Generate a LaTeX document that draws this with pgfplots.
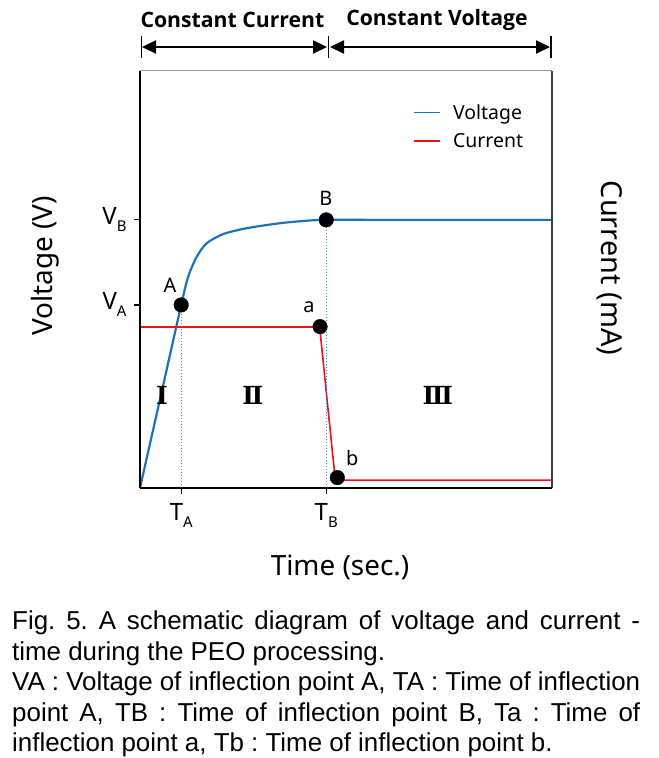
\documentclass[border=0pt]{standalone}
\usepackage{fontspec}
\setmainfont{Noto Sans}
\newfontfamily\boldfont{Open Sans}
\newfontfamily\capfont{Liberation Sans}
\newfontfamily\romanfont{DejaVu Serif}
\usepackage{pgfplots}
\pgfplotsset{compat=1.18}
\usetikzlibrary{arrows.meta}
\definecolor{vblue}{RGB}{30,114,184}
\definecolor{cred}{RGB}{232,20,20}
\newcommand{\sub}[1]{\raisebox{-0.55ex}{\fontsize{15}{15}\selectfont #1}}
\begin{document}
\begin{tikzpicture}[x=1bp,y=1bp]
\begin{axis}[
  at={(0,0)}, anchor=south west,
  scale only axis, width=412bp, height=417bp,
  xmin=0, xmax=100, ymin=0, ymax=100,
  axis line style={draw=none},
  xtick={10,45.2}, xticklabels={T\sub{A}, T\sub{B}},
  ytick={43.9,64.3}, yticklabels={V\sub{A}, V\sub{B}},
  xtick pos=bottom, ytick pos=left,
  tick align=outside, major tick length=6bp,
  tick style={black, line width=1.2pt},
  tick label style={font=\fontsize{24}{24}\selectfont},
  xticklabel style={yshift=-6bp},
  yticklabel style={xshift=-4bp},
  clip=false,
  legend style={at={(rel axis cs:0.655,0.93)}, anchor=north west, draw=none, fill=none,
    font=\fontsize{19.5}{19.5}\selectfont, row sep=9bp},
  legend cell align=left,
  legend image code/.code={\draw[#1, line width=2pt] (0bp,0bp) -- (26bp,0bp); \path (36bp,0bp);},
]
\addplot[vblue, line width=2.2pt, smooth, tension=0.45] coordinates {
  (0,0) (5,21.9) (10,43.9) (11.7,50.7) (13.8,55.5) (16.2,58.7) (20.2,60.9)
  (25.9,62.3) (34.0,63.5) (40.5,64.1) (45.2,64.3) (60,64.3) (100,64.3)};
\addlegendentry{Voltage}
\addplot[cred, line width=1.6pt] coordinates {
  (0,38.6) (43.6,38.6) (47.4,1.9) (100,1.9)};
\addlegendentry{Current}
\addplot[vblue!80, dotted, line width=1pt, forget plot] coordinates {(10,0) (10,43.9)};
\addplot[vblue!80, dotted, line width=1pt, forget plot] coordinates {(45.2,0) (45.2,64.3)};
\addplot[only marks, mark=*, mark size=7.3bp, black, forget plot] coordinates {
  (10,43.9) (45.2,64.3) (43.7,38.7) (47.9,2.5)};
\node[font=\fontsize{20}{20}\selectfont] at (axis cs:7.3,48.7) {A};
\node[font=\fontsize{20}{20}\selectfont] at (axis cs:45.1,69.5) {B};
\node[font=\fontsize{20}{20}\selectfont] at (axis cs:41.0,43.4) {a};
\node[font=\fontsize{20}{20}\selectfont] at (axis cs:51.5,7.2) {b};
\node[font=\romanfont\bfseries\fontsize{25}{25}\selectfont] at (axis cs:5.3,22.3) {Ⅰ};
\node[font=\romanfont\bfseries\fontsize{25}{25}\selectfont] at (axis cs:27.4,22.3) {Ⅱ};
\node[font=\romanfont\bfseries\fontsize{25}{25}\selectfont] at (axis cs:72.3,22.3) {Ⅲ};
\end{axis}
% frame
\draw[gray!80, line width=1pt] (0,417) -- (412,417);
\draw[black!75, line width=1.6pt] (412,0) -- (412,417);
\draw[black, line width=1.6pt] (0,0) -- (412,0);
\draw[black, line width=1.6pt] (0,0) -- (0,417);
% axis labels
\node[rotate=90, font=\fontsize{28}{28}\selectfont] at (-95,222) {Voltage (V)};
\node[rotate=-90, font=\fontsize{29}{29}\selectfont] at (470,220) {Current (mA)};
\node[font=\fontsize{28}{28}\selectfont] at (200,-79) {Time (sec.)};
% top arrows
\draw[line width=2.2pt, {Triangle[length=14bp,width=13bp]}-{Triangle[length=14bp,width=13bp]}] (2,441) -- (187,441);
\draw[line width=2.2pt, {Triangle[length=14bp,width=13bp]}-{Triangle[length=14bp,width=13bp]}] (190,441) -- (410,441);
\draw[line width=2pt] (1.5,430) -- (1.5,452);
\draw[line width=2pt] (188.5,430) -- (188.5,452);
\draw[line width=2pt] (411,430) -- (411,452);
\node[font=\boldfont\bfseries\fontsize{21.3}{21.3}\selectfont] at (92.5,468) {Constant Current};
\node[font=\boldfont\bfseries\fontsize{21.3}{21.3}\selectfont] at (297,468) {Constant Voltage};
% caption
\node[anchor=north west, inner sep=0pt, text width=628bp, align=justify,
  font=\capfont\fontsize{26}{30.5}\selectfont\frenchspacing] at (-128,-123)
  {Fig. 5. A schematic diagram of voltage and current -\linebreak
   time during the PEO processing.\\
   VA : Voltage of inflection point A, TA : Time of inflection\linebreak
   point A, TB : Time of inflection point B, Ta : Time of\linebreak
   inflection point a, Tb : Time of inflection point b.};
\useasboundingbox (-140,-270) rectangle (519,488);
\end{tikzpicture}
\end{document}
